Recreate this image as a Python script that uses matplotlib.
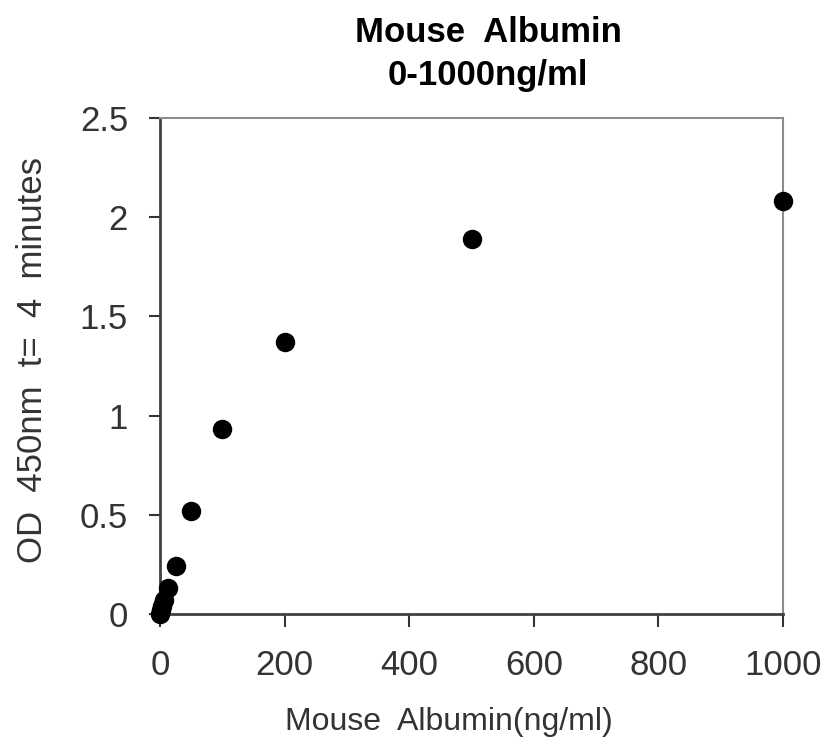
import matplotlib
matplotlib.use('Agg')
import matplotlib.pyplot as plt

# Mouse albumin standard curve (ng/ml vs OD 450nm at t = 4 min)
conc = [0, 1.56, 3.125, 6.25, 12.5, 25, 50, 100, 200, 500, 1000]
od450 = [0.0, 0.02, 0.04, 0.07, 0.13, 0.24, 0.52, 0.93, 1.37, 1.89, 2.08]

x_ticks = [0, 200, 400, 600, 800, 1000]
y_ticks = [0, 0.5, 1, 1.5, 2, 2.5]
y_tick_labels = ['0', '0.5', '1', '1.5', '2', '2.5']

plt.rcParams['font.family'] = ['Liberation Sans', 'DejaVu Sans']

W, H = 838, 743
fig = plt.figure(figsize=(W / 100, H / 100), dpi=100, facecolor='white')
ax = fig.add_axes([160 / W, 1 - 614 / H, 623 / W, 496 / H])

ax.plot(conc, od450, 'o', color='black', markersize=13, clip_on=False, zorder=5)

ax.set_xlim(0, 1000)
ax.set_ylim(0, 2.5)
ax.set_xticks(x_ticks)
ax.set_yticks(y_ticks)
ax.set_yticklabels(y_tick_labels)
ax.tick_params(labelsize=25, direction='out', width=1.5, color='#333333', labelcolor='#333333')
ax.tick_params(axis='x', length=9, pad=16)
ax.tick_params(axis='y', length=8, pad=15)

for s in ['left', 'bottom']:
    ax.spines[s].set_color('#404040')
    ax.spines[s].set_linewidth(2)
for s in ['top', 'right']:
    ax.spines[s].set_color('#8c8c8c')
    ax.spines[s].set_linewidth(1.5)

# labels placed where they sit in the original
fig.text(449 / W, 1 - 722 / H, 'Mouse  Albumin(ng/ml)', fontsize=23, color='#333333',
         ha='center', va='center')
fig.text(33 / W, 1 - 360 / H, 'OD  450nm  t=  4  minutes', fontsize=25, color='#333333',
         rotation=90, ha='center', va='center')
fig.text(488 / W, 1 - 42 / H, 'Mouse  Albumin', fontsize=25, fontweight='bold',
         ha='center', va='baseline')
fig.text(488 / W, 1 - 85 / H, '0-1000ng/ml', fontsize=25, fontweight='bold',
         ha='center', va='baseline')

plt.savefig('out.png', dpi=100, facecolor='white')
